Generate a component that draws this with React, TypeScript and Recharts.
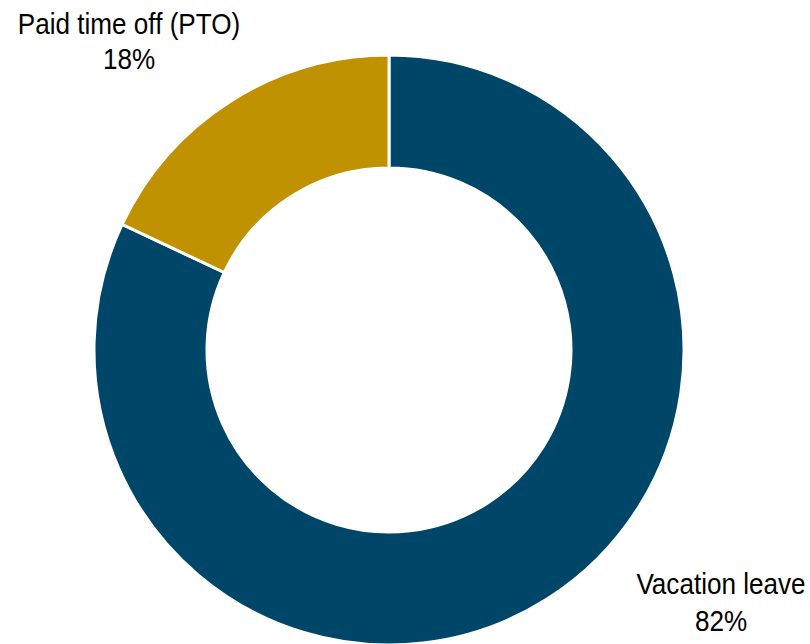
import { PieChart, Pie, Cell } from "recharts";

const categories = ["Vacation leave", "Paid time off (PTO)"];
const shares = [82, 18];
const colors = ["#004669", "#C09100"];

const data = categories.map((name, i) => ({ name, value: shares[i] }));

// label baseline anchors relative to pie centre, one per slice
const labelOffsets = [
  { dx: 332, dy: 244, gap: 37 },
  { dx: -260, dy: -316, gap: 35 },
];

const fontFamily = "'Liberation Sans', Arial, sans-serif";

function renderLabel(props: any) {
  const { cx, cy, index, name, value } = props;
  const off = labelOffsets[index];
  const x = cx + off.dx;
  const y = cy + off.dy;
  // the source font is a bit taller than wide, so squeeze it horizontally
  return (
    <g transform={`translate(${x},${y}) scale(0.9,1)`}>
      <text x={0} y={0} textAnchor="middle" fill="#000" fontSize={29} fontFamily={fontFamily}>
        <tspan x={0} dy={0}>{name}</tspan>
        <tspan x={0} dy={off.gap}>{value}%</tspan>
      </text>
    </g>
  );
}

export default function App() {
  return (
    <div style={{ position: "absolute", left: 0, top: 0, width: 810, height: 644, background: "#fff" }}>
      <PieChart width={810} height={644} margin={{ top: 0, right: 0, bottom: 0, left: 0 }}>
        <Pie
          data={data}
          dataKey="value"
          nameKey="name"
          cx={389}
          cy={350}
          innerRadius={182}
          outerRadius={295}
          startAngle={90}
          endAngle={-270}
          stroke="#fff"
          strokeWidth={3}
          label={renderLabel}
          labelLine={false}
          isAnimationActive={false}
        >
          {data.map((d, i) => (
            <Cell key={d.name} fill={colors[i]} />
          ))}
        </Pie>
      </PieChart>
    </div>
  );
}
